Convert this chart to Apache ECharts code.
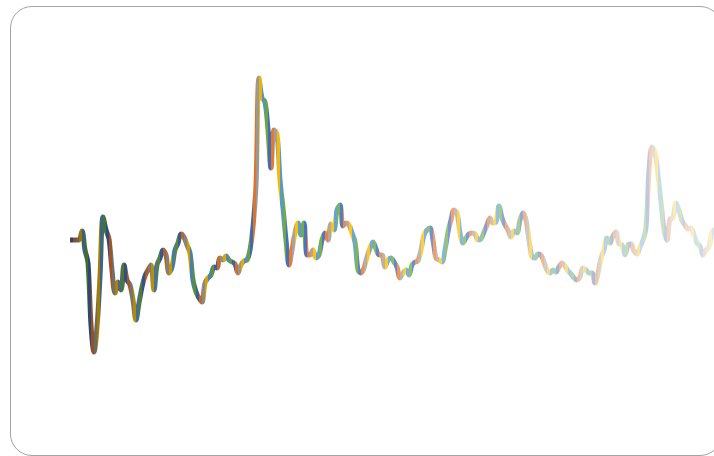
<!DOCTYPE html>
<html>
<head>
<meta charset="utf-8">
<script src="https://cdn.jsdelivr.net/npm/echarts@6/dist/echarts.min.js"></script>
<style>
html,body{margin:0;padding:0;width:714px;height:456px;overflow:hidden;background:#fff;}
#frame{position:absolute;left:10px;top:6px;width:712px;height:450px;box-sizing:border-box;border:1px solid #a3a3a3;border-radius:22px;}
#chart{position:absolute;left:0;top:0;width:730px;height:456px;}
</style>
</head>
<body>
<div id="frame"></div>
<div id="chart"></div>
<script>
// Series values (one point per period)
const values = [
  80, 80, 80, 80, 84.5, 75, 68.5, 37.5, 24, 36.5,
  61.5, 91.5, 85, 80.5, 65, 53.5, 59, 55, 67.5, 60,
  57.5, 50, 40, 48.5, 56.5, 62, 65, 67.5, 55, 67.5,
  71, 75, 72.5, 63.5, 66.5, 75, 78.5, 83, 81.5, 77.5,
  73.5, 60, 54, 51, 49, 58.5, 61, 62.5, 66.5, 66,
  71, 70, 72, 70, 69, 68, 63.5, 67.5, 69.5, 70,
  75, 86.5, 107.5, 161, 151, 149, 135, 116, 135, 133,
  110, 96, 80, 67.5, 75, 83.5, 88.5, 82.5, 88.5, 72.5,
  72.5, 75, 71, 72.5, 80, 83.5, 80, 88, 85, 95,
  97.5, 87, 88.5, 87.5, 83.5, 79, 65, 63.5, 66, 71.5,
  76, 79, 75.5, 72.5, 72.5, 66.5, 70, 71, 69, 66.5,
  61, 63.5, 65, 62.5, 67.5, 69, 69.5, 75, 82.5, 85,
  86, 80, 71, 70, 69, 75, 84, 90, 95, 93.5,
  83.5, 78.5, 81, 83, 83.5, 83, 80, 80.5, 84, 87.5,
  91, 88.5, 89, 97, 91, 87.5, 85, 81.5, 84.5, 83.5,
  90, 93.5, 90, 80, 71.5, 71, 73, 72.5, 69, 65,
  63.5, 65, 64, 66.5, 68.5, 67, 64.5, 63, 61, 60,
  61.5, 66, 65, 63.5, 63.5, 58.5, 63.5, 71, 75, 81,
  78.5, 82, 84, 78, 77.5, 72.5, 77.5, 78, 74.5, 73,
  76.5, 80, 86.5, 115, 126.5, 123.5, 112.5, 99, 85, 80,
  90.5, 91, 98.5, 95, 89.5, 87.5, 85.5, 86, 82.5, 78.5,
  77, 72.5, 75, 76.5, 84, 85, 84
];
const categories = values.map((_, i) => String(i + 1));
const palette = ['#4472C4', '#ED7D31', '#A5A5A5', '#FFC000', '#5B9BD5', '#70AD47'];

function hexToRgb(h) {
  return [parseInt(h.slice(1, 3), 16), parseInt(h.slice(3, 5), 16), parseInt(h.slice(5, 7), 16)];
}
function shade(hex, t) {
  let [r, g, b] = hexToRgb(hex);
  if (t < 0.35) {
    const d = 0.4 * (0.35 - t) / 0.35;
    r *= (1 - d); g *= (1 - d); b *= (1 - d);
  } else {
    const w = 0.75 * (t - 0.35) / 0.65;
    r += (255 - r) * w; g += (255 - g) * w; b += (255 - b) * w;
  }
  return 'rgb(' + Math.round(r) + ',' + Math.round(g) + ',' + Math.round(b) + ')';
}
const n = values.length;
const pieces = [];
for (let i = 0; i < n - 1; i++) {
  pieces.push({ gte: i, lt: i + 1, color: shade(palette[i % palette.length], i / (n - 2)) });
}
pieces.push({ gte: n - 1, lte: n, color: shade(palette[(n - 2) % palette.length], 1) });

const chart = echarts.init(document.getElementById('chart'));
chart.setOption({
  animation: false,
  backgroundColor: 'transparent',
  grid: { left: 70, right: 12, top: 0, bottom: 56 },
  xAxis: { type: 'category', data: categories, boundaryGap: false, show: false },
  yAxis: { type: 'value', min: 0, max: 200, show: false, splitLine: { show: false } },
  visualMap: { show: false, type: 'piecewise', dimension: 0, seriesIndex: 0, pieces: pieces },
  series: [{
    type: 'line',
    data: values,
    smooth: 0.35,
    symbol: 'none',
    lineStyle: { width: 5, cap: 'round', join: 'round' }
  }]
});
</script>
</body>
</html>
